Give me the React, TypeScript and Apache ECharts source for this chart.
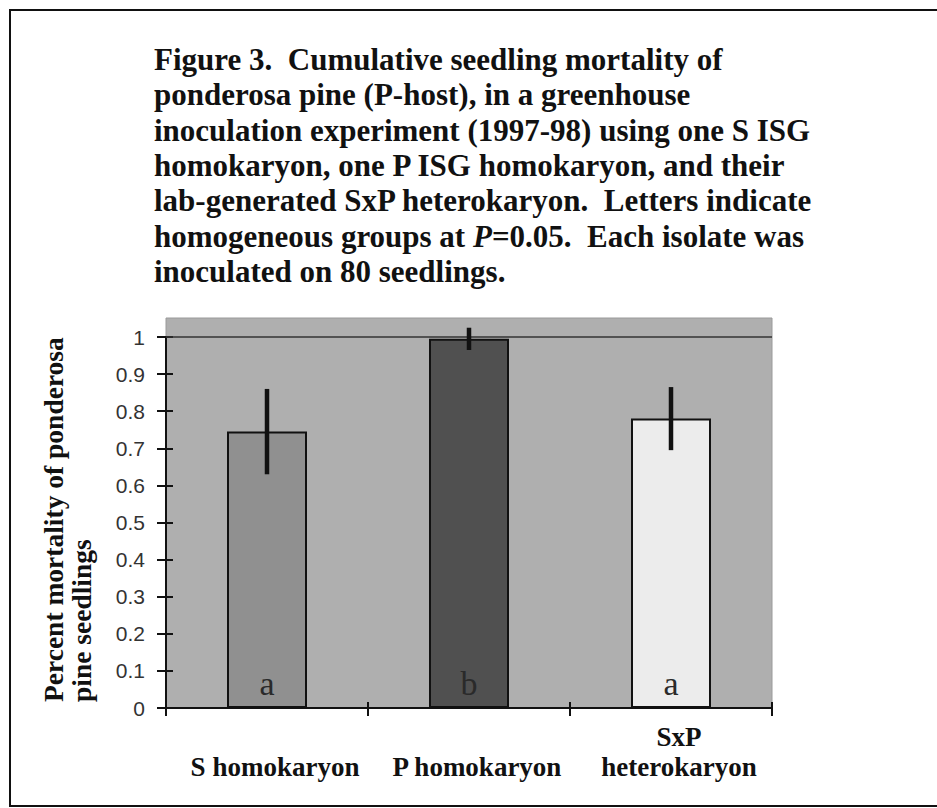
import React, { useEffect, useRef } from "react";
import * as echarts from "echarts";

// ---- data ----
const categories = ["S homokaryon", "P homokaryon", "SxP\nheterokaryon"];
const mortality = [0.745, 0.995, 0.78];
const errors = [0.115, 0.03, 0.085];
const groupLetters = ["a", "b", "a"];
const yTicks = { min: 0, max: 1, interval: 0.1 };
const titleLines = [
  "Figure 3.  Cumulative seedling mortality of",
  "ponderosa pine (P-host), in a greenhouse",
  "inoculation experiment (1997-98) using one S ISG",
  "homokaryon, one P ISG homokaryon, and their",
  "lab-generated SxP heterokaryon.  Letters indicate",
  "homogeneous groups at {i|P}=0.05.  Each isolate was",
  "inoculated on 80 seedlings.",
];
const yTitleLines = ["Percent mortality of ponderosa", "pine seedlings"];

// ---- styles ----
const barColors = ["#909090", "#505050", "#ececec"];
const SERIF = '"Liberation Serif", "Times New Roman", serif';
const SANS = '"Liberation Sans", Arial, sans-serif';

export default function App() {
  const ref = useRef<HTMLDivElement>(null);

  useEffect(() => {
    if (!ref.current) return;
    const chart = echarts.init(ref.current, undefined, { renderer: "svg" });

    const errData = categories.map((_, i) => [
      i,
      mortality[i] - errors[i],
      mortality[i] + errors[i],
    ]);

    const option: any = {
      animation: false,
      backgroundColor: "#ffffff",
      title: {
        text: titleLines.join("\n"),
        left: 154,
        top: 42,
        padding: 0,
        textStyle: {
          fontFamily: SERIF,
          fontWeight: "bold",
          fontSize: 31,
          lineHeight: 35.3,
          color: "#111",
          rich: {
            i: {
              fontFamily: SERIF,
              fontWeight: "bold",
              fontStyle: "italic",
              fontSize: 31,
              lineHeight: 35.3,
              color: "#111",
            },
          },
        },
      },
      grid: { left: 166, right: 165, top: 337, bottom: 100, containLabel: false },
      graphic: [
        {
          type: "rect",
          z: -10,
          shape: { x: 10, y: 10, width: 1000, height: 796 },
          style: { fill: "none", stroke: "#111", lineWidth: 2 },
        },
        {
          type: "rect",
          z: -10,
          shape: { x: 166, y: 318, width: 606, height: 390 },
          style: { fill: "#afafaf", stroke: "#9a9a9a", lineWidth: 1 },
        },
        {
          type: "text",
          x: 53,
          y: 702,
          rotation: Math.PI / 2,
          style: {
            text: yTitleLines[0],
            fontFamily: SERIF,
            fontWeight: "bold",
            fontSize: 27.5,
            fill: "#111",
            align: "left",
            verticalAlign: "middle",
          },
        },
        {
          type: "text",
          x: 81,
          y: 702,
          rotation: Math.PI / 2,
          style: {
            text: yTitleLines[1],
            fontFamily: SERIF,
            fontWeight: "bold",
            fontSize: 27.5,
            fill: "#111",
            align: "left",
            verticalAlign: "middle",
          },
        },
      ],
      xAxis: [
        {
          type: "category",
          data: categories,
          position: "bottom",
          axisLine: { show: true, lineStyle: { color: "#111", width: 2 } },
          axisTick: { show: true, inside: false, length: 8, lineStyle: { color: "#111", width: 2 } },
          axisLabel: {
            interval: 0,
            fontFamily: SERIF,
            fontWeight: "bold",
            fontSize: 27,
            lineHeight: 30,
            color: "#111",
            verticalAlign: "bottom",
            margin: 74,
            padding: [0, 0, 0, 16],
          },
          splitLine: { show: false },
        },
        {
          type: "category",
          data: categories,
          position: "bottom",
          axisLine: { show: false },
          axisTick: { show: true, inside: true, length: 6, lineStyle: { color: "#111", width: 2 } },
          axisLabel: { show: false },
          splitLine: { show: false },
        },
      ],
      yAxis: [
        {
          type: "value",
          min: yTicks.min,
          max: yTicks.max,
          interval: yTicks.interval,
          position: "left",
          axisLine: { show: true, lineStyle: { color: "#111", width: 2 } },
          axisTick: { show: true, inside: false, length: 9, lineStyle: { color: "#111", width: 2 } },
          axisLabel: {
            fontFamily: SANS,
            fontSize: 21,
            color: "#333",
            margin: 21,
          },
          splitLine: { show: false },
        },
        {
          type: "value",
          min: yTicks.min,
          max: yTicks.max,
          interval: yTicks.interval,
          position: "left",
          axisLine: { show: false },
          axisTick: { show: true, inside: true, length: 7, lineStyle: { color: "#111", width: 2 } },
          axisLabel: { show: false },
          splitLine: { show: false },
        },
      ],
      series: [
        {
          type: "bar",
          xAxisIndex: 0,
          yAxisIndex: 0,
          barWidth: 80,
          z: 2,
          data: mortality.map((v, i) => ({
            value: v,
            itemStyle: { color: barColors[i], borderColor: "#111", borderWidth: 2 },
          })),
          label: {
            show: true,
            position: "insideBottom",
            distance: 8,
            formatter: (p: any) => groupLetters[p.dataIndex],
            fontFamily: SERIF,
            fontSize: 34,
            color: "#2a2a2a",
          },
          markLine: {
            silent: true,
            symbol: ["none", "none"],
            label: { show: false },
            lineStyle: { color: "#333", width: 1.5, type: "solid" },
            data: [{ yAxis: 1 }],
          },
        },
        {
          type: "custom",
          xAxisIndex: 0,
          yAxisIndex: 0,
          z: 5,
          data: errData,
          renderItem: (params: any, api: any) => {
            const lo = api.coord([api.value(0), api.value(1)]);
            const hi = api.coord([api.value(0), api.value(2)]);
            return {
              type: "line",
              shape: { x1: lo[0], y1: lo[1], x2: hi[0], y2: hi[1] },
              style: { stroke: "#111", lineWidth: 4.5 },
            };
          },
        },
      ],
    };

    chart.setOption(option);
    return () => chart.dispose();
  }, []);

  return (
    <div
      ref={ref}
      style={{ position: "absolute", left: 0, top: 0, width: 937, height: 808 }}
    />
  );
}
